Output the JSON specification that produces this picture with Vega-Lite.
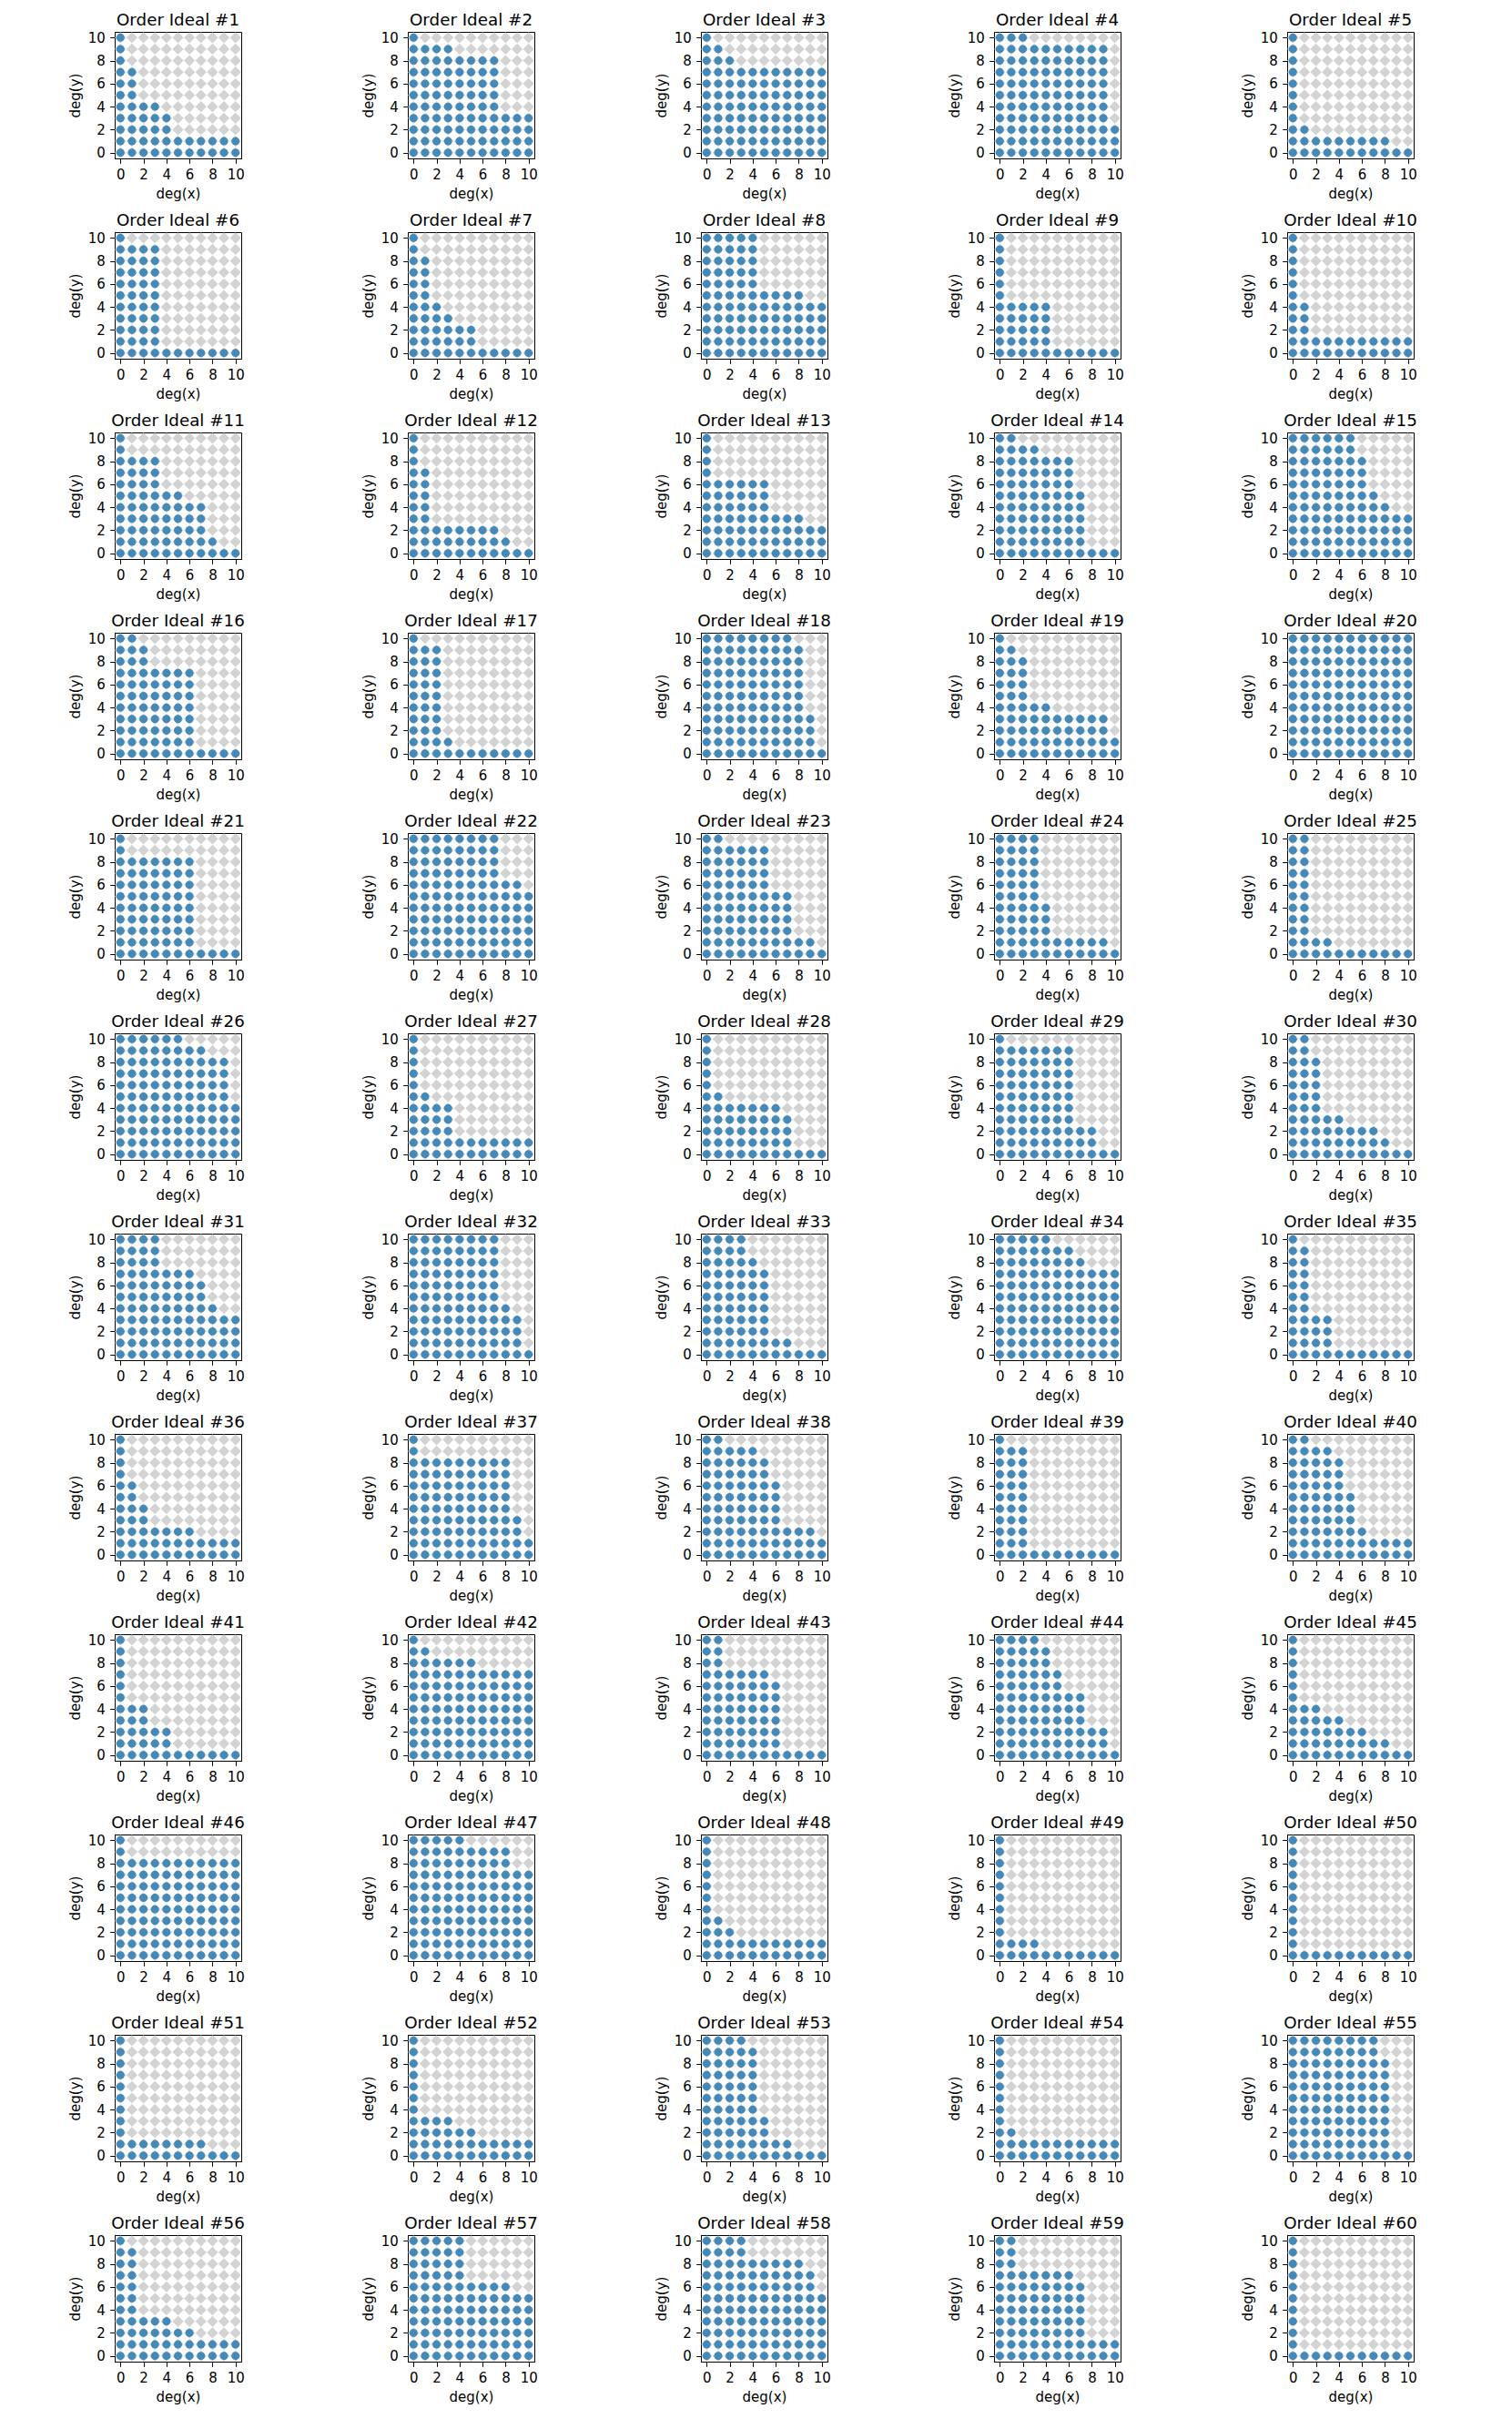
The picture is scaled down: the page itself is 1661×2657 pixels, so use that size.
{
"$schema":"https://vega.github.io/schema/vega-lite/v6.json",
"padding":{"left":74,"top":12,"right":0,"bottom":0},
"background":"white",
"datasets":{
"grid":[{"y":0,"g":[0,1,2,3,4,5,6,7,8,9,10]},{"y":1,"g":[0,1,2,3,4,5,6,7,8,9,10]},{"y":2,"g":[0,1,2,3,4,5,6,7,8,9,10]},{"y":3,"g":[0,1,2,3,4,5,6,7,8,9,10]},{"y":4,"g":[0,1,2,3,4,5,6,7,8,9,10]},{"y":5,"g":[0,1,2,3,4,5,6,7,8,9,10]},{"y":6,"g":[0,1,2,3,4,5,6,7,8,9,10]},{"y":7,"g":[0,1,2,3,4,5,6,7,8,9,10]},{"y":8,"g":[0,1,2,3,4,5,6,7,8,9,10]},{"y":9,"g":[0,1,2,3,4,5,6,7,8,9,10]},{"y":10,"g":[0,1,2,3,4,5,6,7,8,9,10]}],
"ideal":[
{"p":1,"y":0,"x":[0,1,2,3,4,5,6,7,8,9,10]},{"p":1,"y":1,"x":[0,1,2,3,4,5,6,7,8,9,10]},{"p":1,"y":2,"x":[0,1,2,3,4]},{"p":1,"y":3,"x":[0,1,2,3,4]},{"p":1,"y":4,"x":[0,1,2,3]},{"p":1,"y":5,"x":[0,1]},{"p":1,"y":6,"x":[0,1]},{"p":1,"y":7,"x":[0,1]},{"p":1,"y":8,"x":[0]},{"p":1,"y":9,"x":[0]},{"p":1,"y":10,"x":[0]},
{"p":2,"y":0,"x":[0,1,2,3,4,5,6,7,8,9,10]},{"p":2,"y":1,"x":[0,1,2,3,4,5,6,7,8,9,10]},{"p":2,"y":2,"x":[0,1,2,3,4,5,6,7,8,9,10]},{"p":2,"y":3,"x":[0,1,2,3,4,5,6,7,8,9,10]},{"p":2,"y":4,"x":[0,1,2,3,4,5,6,7]},{"p":2,"y":5,"x":[0,1,2,3,4,5,6,7]},{"p":2,"y":6,"x":[0,1,2,3,4,5,6,7]},{"p":2,"y":7,"x":[0,1,2,3,4,5,6,7]},{"p":2,"y":8,"x":[0,1,2,3,4,5,6,7]},{"p":2,"y":9,"x":[0,1,2,3]},{"p":2,"y":10,"x":[0]},
{"p":3,"y":0,"x":[0,1,2,3,4,5,6,7,8,9,10]},{"p":3,"y":1,"x":[0,1,2,3,4,5,6,7,8,9,10]},{"p":3,"y":2,"x":[0,1,2,3,4,5,6,7,8,9,10]},{"p":3,"y":3,"x":[0,1,2,3,4,5,6,7,8,9,10]},{"p":3,"y":4,"x":[0,1,2,3,4,5,6,7,8,9,10]},{"p":3,"y":5,"x":[0,1,2,3,4,5,6,7,8,9,10]},{"p":3,"y":6,"x":[0,1,2,3,4,5,6,7,8,9,10]},{"p":3,"y":7,"x":[0,1,2,3,4,5,6,7,8,9,10]},{"p":3,"y":8,"x":[0,1,2]},{"p":3,"y":9,"x":[0,1]},{"p":3,"y":10,"x":[0]},
{"p":4,"y":0,"x":[0,1,2,3,4,5,6,7,8,9,10]},{"p":4,"y":1,"x":[0,1,2,3,4,5,6,7,8,9,10]},{"p":4,"y":2,"x":[0,1,2,3,4,5,6,7,8,9,10]},{"p":4,"y":3,"x":[0,1,2,3,4,5,6,7,8,9]},{"p":4,"y":4,"x":[0,1,2,3,4,5,6,7,8,9]},{"p":4,"y":5,"x":[0,1,2,3,4,5,6,7,8,9]},{"p":4,"y":6,"x":[0,1,2,3,4,5,6,7,8,9]},{"p":4,"y":7,"x":[0,1,2,3,4,5,6,7,8,9]},{"p":4,"y":8,"x":[0,1,2,3,4,5,6,7,8,9]},{"p":4,"y":9,"x":[0,1,2,3,4,5,6,7,8,9]},{"p":4,"y":10,"x":[0,1,2]},
{"p":5,"y":0,"x":[0,1,2,3,4,5,6,7,8,9,10]},{"p":5,"y":1,"x":[0,1,2,3,4,5,6,7,8]},{"p":5,"y":2,"x":[0,1]},{"p":5,"y":3,"x":[0]},{"p":5,"y":4,"x":[0]},{"p":5,"y":5,"x":[0]},{"p":5,"y":6,"x":[0]},{"p":5,"y":7,"x":[0]},{"p":5,"y":8,"x":[0]},{"p":5,"y":9,"x":[0]},{"p":5,"y":10,"x":[0]},
{"p":6,"y":0,"x":[0,1,2,3,4,5,6,7,8,9,10]},{"p":6,"y":1,"x":[0,1,2,3]},{"p":6,"y":2,"x":[0,1,2,3]},{"p":6,"y":3,"x":[0,1,2,3]},{"p":6,"y":4,"x":[0,1,2,3]},{"p":6,"y":5,"x":[0,1,2,3]},{"p":6,"y":6,"x":[0,1,2,3]},{"p":6,"y":7,"x":[0,1,2,3]},{"p":6,"y":8,"x":[0,1,2,3]},{"p":6,"y":9,"x":[0,1,2,3]},{"p":6,"y":10,"x":[0]},
{"p":7,"y":0,"x":[0,1,2,3,4,5,6,7,8,9,10]},{"p":7,"y":1,"x":[0,1,2,3,4,5]},{"p":7,"y":2,"x":[0,1,2,3,4,5]},{"p":7,"y":3,"x":[0,1,2,3]},{"p":7,"y":4,"x":[0,1,2]},{"p":7,"y":5,"x":[0,1]},{"p":7,"y":6,"x":[0,1]},{"p":7,"y":7,"x":[0,1]},{"p":7,"y":8,"x":[0,1]},{"p":7,"y":9,"x":[0]},{"p":7,"y":10,"x":[0]},
{"p":8,"y":0,"x":[0,1,2,3,4,5,6,7,8,9,10]},{"p":8,"y":1,"x":[0,1,2,3,4,5,6,7,8,9,10]},{"p":8,"y":2,"x":[0,1,2,3,4,5,6,7,8,9,10]},{"p":8,"y":3,"x":[0,1,2,3,4,5,6,7,8,9,10]},{"p":8,"y":4,"x":[0,1,2,3,4,5,6,7,8,9,10]},{"p":8,"y":5,"x":[0,1,2,3,4,5,6,7,8]},{"p":8,"y":6,"x":[0,1,2,3,4]},{"p":8,"y":7,"x":[0,1,2,3,4]},{"p":8,"y":8,"x":[0,1,2,3,4]},{"p":8,"y":9,"x":[0,1,2,3,4]},{"p":8,"y":10,"x":[0,1,2,3,4]},
{"p":9,"y":0,"x":[0,1,2,3,4,5,6,7,8,9,10]},{"p":9,"y":1,"x":[0,1,2,3,4]},{"p":9,"y":2,"x":[0,1,2,3,4]},{"p":9,"y":3,"x":[0,1,2,3,4]},{"p":9,"y":4,"x":[0,1,2,3,4]},{"p":9,"y":5,"x":[0]},{"p":9,"y":6,"x":[0]},{"p":9,"y":7,"x":[0]},{"p":9,"y":8,"x":[0]},{"p":9,"y":9,"x":[0]},{"p":9,"y":10,"x":[0]},
{"p":10,"y":0,"x":[0,1,2,3,4,5,6,7,8,9,10]},{"p":10,"y":1,"x":[0,1,2,3,4,5,6,7,8,9,10]},{"p":10,"y":2,"x":[0,1]},{"p":10,"y":3,"x":[0,1]},{"p":10,"y":4,"x":[0,1]},{"p":10,"y":5,"x":[0]},{"p":10,"y":6,"x":[0]},{"p":10,"y":7,"x":[0]},{"p":10,"y":8,"x":[0]},{"p":10,"y":9,"x":[0]},{"p":10,"y":10,"x":[0]},
{"p":11,"y":0,"x":[0,1,2,3,4,5,6,7,8,9,10]},{"p":11,"y":1,"x":[0,1,2,3,4,5,6,7,8]},{"p":11,"y":2,"x":[0,1,2,3,4,5,6,7]},{"p":11,"y":3,"x":[0,1,2,3,4,5,6,7]},{"p":11,"y":4,"x":[0,1,2,3,4,5,6,7]},{"p":11,"y":5,"x":[0,1,2,3,4,5]},{"p":11,"y":6,"x":[0,1,2,3]},{"p":11,"y":7,"x":[0,1,2,3]},{"p":11,"y":8,"x":[0,1,2,3]},{"p":11,"y":9,"x":[0]},{"p":11,"y":10,"x":[0]},
{"p":12,"y":0,"x":[0,1,2,3,4,5,6,7,8,9,10]},{"p":12,"y":1,"x":[0,1,2,3,4,5,6,7,8]},{"p":12,"y":2,"x":[0,1,2,3,4,5,6,7]},{"p":12,"y":3,"x":[0,1]},{"p":12,"y":4,"x":[0,1]},{"p":12,"y":5,"x":[0,1]},{"p":12,"y":6,"x":[0,1]},{"p":12,"y":7,"x":[0,1]},{"p":12,"y":8,"x":[0]},{"p":12,"y":9,"x":[0]},{"p":12,"y":10,"x":[0]},
{"p":13,"y":0,"x":[0,1,2,3,4,5,6,7,8,9,10]},{"p":13,"y":1,"x":[0,1,2,3,4,5,6,7,8,9,10]},{"p":13,"y":2,"x":[0,1,2,3,4,5,6,7,8,9,10]},{"p":13,"y":3,"x":[0,1,2,3,4,5,6,7,8]},{"p":13,"y":4,"x":[0,1,2,3,4,5]},{"p":13,"y":5,"x":[0,1,2,3,4,5]},{"p":13,"y":6,"x":[0,1,2,3,4,5]},{"p":13,"y":7,"x":[0]},{"p":13,"y":8,"x":[0]},{"p":13,"y":9,"x":[0]},{"p":13,"y":10,"x":[0]},
{"p":14,"y":0,"x":[0,1,2,3,4,5,6,7,8,9,10]},{"p":14,"y":1,"x":[0,1,2,3,4,5,6,7]},{"p":14,"y":2,"x":[0,1,2,3,4,5,6,7]},{"p":14,"y":3,"x":[0,1,2,3,4,5,6,7]},{"p":14,"y":4,"x":[0,1,2,3,4,5,6,7]},{"p":14,"y":5,"x":[0,1,2,3,4,5,6,7]},{"p":14,"y":6,"x":[0,1,2,3,4,5,6]},{"p":14,"y":7,"x":[0,1,2,3,4,5,6]},{"p":14,"y":8,"x":[0,1,2,3,4,5,6]},{"p":14,"y":9,"x":[0,1,2,3]},{"p":14,"y":10,"x":[0,1]},
{"p":15,"y":0,"x":[0,1,2,3,4,5,6,7,8,9,10]},{"p":15,"y":1,"x":[0,1,2,3,4,5,6,7,8,9,10]},{"p":15,"y":2,"x":[0,1,2,3,4,5,6,7,8,9,10]},{"p":15,"y":3,"x":[0,1,2,3,4,5,6,7,8,9,10]},{"p":15,"y":4,"x":[0,1,2,3,4,5,6,7,8]},{"p":15,"y":5,"x":[0,1,2,3,4,5,6,7]},{"p":15,"y":6,"x":[0,1,2,3,4,5,6]},{"p":15,"y":7,"x":[0,1,2,3,4,5,6]},{"p":15,"y":8,"x":[0,1,2,3,4,5,6]},{"p":15,"y":9,"x":[0,1,2,3,4,5]},{"p":15,"y":10,"x":[0,1,2,3,4,5]},
{"p":16,"y":0,"x":[0,1,2,3,4,5,6,7,8,9,10]},{"p":16,"y":1,"x":[0,1,2,3,4,5,6]},{"p":16,"y":2,"x":[0,1,2,3,4,5,6]},{"p":16,"y":3,"x":[0,1,2,3,4,5,6]},{"p":16,"y":4,"x":[0,1,2,3,4,5,6]},{"p":16,"y":5,"x":[0,1,2,3,4,5,6]},{"p":16,"y":6,"x":[0,1,2,3,4,5,6]},{"p":16,"y":7,"x":[0,1,2,3,4,5,6]},{"p":16,"y":8,"x":[0,1,2]},{"p":16,"y":9,"x":[0,1,2]},{"p":16,"y":10,"x":[0,1]},
{"p":17,"y":0,"x":[0,1,2,3,4,5,6,7,8,9,10]},{"p":17,"y":1,"x":[0,1,2,3]},{"p":17,"y":2,"x":[0,1,2]},{"p":17,"y":3,"x":[0,1,2]},{"p":17,"y":4,"x":[0,1,2]},{"p":17,"y":5,"x":[0,1,2]},{"p":17,"y":6,"x":[0,1,2]},{"p":17,"y":7,"x":[0,1,2]},{"p":17,"y":8,"x":[0,1,2]},{"p":17,"y":9,"x":[0,1,2]},{"p":17,"y":10,"x":[0]},
{"p":18,"y":0,"x":[0,1,2,3,4,5,6,7,8,9,10]},{"p":18,"y":1,"x":[0,1,2,3,4,5,6,7,8,9]},{"p":18,"y":2,"x":[0,1,2,3,4,5,6,7,8,9]},{"p":18,"y":3,"x":[0,1,2,3,4,5,6,7,8,9]},{"p":18,"y":4,"x":[0,1,2,3,4,5,6,7,8]},{"p":18,"y":5,"x":[0,1,2,3,4,5,6,7,8]},{"p":18,"y":6,"x":[0,1,2,3,4,5,6,7,8]},{"p":18,"y":7,"x":[0,1,2,3,4,5,6,7,8]},{"p":18,"y":8,"x":[0,1,2,3,4,5,6,7,8]},{"p":18,"y":9,"x":[0,1,2,3,4,5,6,7,8]},{"p":18,"y":10,"x":[0,1,2,3,4,5,6,7]},
{"p":19,"y":0,"x":[0,1,2,3,4,5,6,7,8,9,10]},{"p":19,"y":1,"x":[0,1,2,3,4,5,6,7,8,9,10]},{"p":19,"y":2,"x":[0,1,2,3,4,5,6,7,8,9]},{"p":19,"y":3,"x":[0,1,2,3,4,5,6,7,8,9]},{"p":19,"y":4,"x":[0,1,2,3,4]},{"p":19,"y":5,"x":[0,1,2]},{"p":19,"y":6,"x":[0,1,2]},{"p":19,"y":7,"x":[0,1,2]},{"p":19,"y":8,"x":[0,1,2]},{"p":19,"y":9,"x":[0,1]},{"p":19,"y":10,"x":[0]},
{"p":20,"y":0,"x":[0,1,2,3,4,5,6,7,8,9,10]},{"p":20,"y":1,"x":[0,1,2,3,4,5,6,7,8,9,10]},{"p":20,"y":2,"x":[0,1,2,3,4,5,6,7,8,9,10]},{"p":20,"y":3,"x":[0,1,2,3,4,5,6,7,8,9,10]},{"p":20,"y":4,"x":[0,1,2,3,4,5,6,7,8,9,10]},{"p":20,"y":5,"x":[0,1,2,3,4,5,6,7,8,9,10]},{"p":20,"y":6,"x":[0,1,2,3,4,5,6,7,8,9,10]},{"p":20,"y":7,"x":[0,1,2,3,4,5,6,7,8,9,10]},{"p":20,"y":8,"x":[0,1,2,3,4,5,6,7,8,9,10]},{"p":20,"y":9,"x":[0,1,2,3,4,5,6,7,8,9,10]},{"p":20,"y":10,"x":[0,1,2,3,4,5,6,7,8,9,10]},
{"p":21,"y":0,"x":[0,1,2,3,4,5,6,7,8,9,10]},{"p":21,"y":1,"x":[0,1,2,3,4,5,6]},{"p":21,"y":2,"x":[0,1,2,3,4,5,6]},{"p":21,"y":3,"x":[0,1,2,3,4,5,6]},{"p":21,"y":4,"x":[0,1,2,3,4,5,6]},{"p":21,"y":5,"x":[0,1,2,3,4,5,6]},{"p":21,"y":6,"x":[0,1,2,3,4,5,6]},{"p":21,"y":7,"x":[0,1,2,3,4,5,6]},{"p":21,"y":8,"x":[0,1,2,3,4,5,6]},{"p":21,"y":9,"x":[0]},{"p":21,"y":10,"x":[0]},
{"p":22,"y":0,"x":[0,1,2,3,4,5,6,7,8,9,10]},{"p":22,"y":1,"x":[0,1,2,3,4,5,6,7,8,9,10]},{"p":22,"y":2,"x":[0,1,2,3,4,5,6,7,8,9,10]},{"p":22,"y":3,"x":[0,1,2,3,4,5,6,7,8,9,10]},{"p":22,"y":4,"x":[0,1,2,3,4,5,6,7,8,9,10]},{"p":22,"y":5,"x":[0,1,2,3,4,5,6,7,8,9,10]},{"p":22,"y":6,"x":[0,1,2,3,4,5,6,7,8,9]},{"p":22,"y":7,"x":[0,1,2,3,4,5,6,7]},{"p":22,"y":8,"x":[0,1,2,3,4,5,6,7]},{"p":22,"y":9,"x":[0,1,2,3,4,5,6,7]},{"p":22,"y":10,"x":[0,1,2,3,4,5,6,7]},
{"p":23,"y":0,"x":[0,1,2,3,4,5,6,7,8,9,10]},{"p":23,"y":1,"x":[0,1,2,3,4,5,6,7,8,9]},{"p":23,"y":2,"x":[0,1,2,3,4,5,6,7]},{"p":23,"y":3,"x":[0,1,2,3,4,5,6,7]},{"p":23,"y":4,"x":[0,1,2,3,4,5,6,7]},{"p":23,"y":5,"x":[0,1,2,3,4,5,6,7]},{"p":23,"y":6,"x":[0,1,2,3,4,5]},{"p":23,"y":7,"x":[0,1,2,3,4,5]},{"p":23,"y":8,"x":[0,1,2,3,4,5]},{"p":23,"y":9,"x":[0,1,2,3,4,5]},{"p":23,"y":10,"x":[0,1]},
{"p":24,"y":0,"x":[0,1,2,3,4,5,6,7,8,9,10]},{"p":24,"y":1,"x":[0,1,2,3,4,5,6,7,8,9]},{"p":24,"y":2,"x":[0,1,2,3,4]},{"p":24,"y":3,"x":[0,1,2,3,4]},{"p":24,"y":4,"x":[0,1,2,3,4]},{"p":24,"y":5,"x":[0,1,2,3]},{"p":24,"y":6,"x":[0,1,2,3]},{"p":24,"y":7,"x":[0,1,2,3]},{"p":24,"y":8,"x":[0,1,2,3]},{"p":24,"y":9,"x":[0,1,2,3]},{"p":24,"y":10,"x":[0,1,2,3]},
{"p":25,"y":0,"x":[0,1,2,3,4,5,6,7,8,9,10]},{"p":25,"y":1,"x":[0,1,2,3]},{"p":25,"y":2,"x":[0,1]},{"p":25,"y":3,"x":[0,1]},{"p":25,"y":4,"x":[0,1]},{"p":25,"y":5,"x":[0,1]},{"p":25,"y":6,"x":[0,1]},{"p":25,"y":7,"x":[0,1]},{"p":25,"y":8,"x":[0,1]},{"p":25,"y":9,"x":[0,1]},{"p":25,"y":10,"x":[0,1]},
{"p":26,"y":0,"x":[0,1,2,3,4,5,6,7,8,9,10]},{"p":26,"y":1,"x":[0,1,2,3,4,5,6,7,8,9,10]},{"p":26,"y":2,"x":[0,1,2,3,4,5,6,7,8,9,10]},{"p":26,"y":3,"x":[0,1,2,3,4,5,6,7,8,9,10]},{"p":26,"y":4,"x":[0,1,2,3,4,5,6,7,8,9,10]},{"p":26,"y":5,"x":[0,1,2,3,4,5,6,7,8,9]},{"p":26,"y":6,"x":[0,1,2,3,4,5,6,7,8,9]},{"p":26,"y":7,"x":[0,1,2,3,4,5,6,7,8,9]},{"p":26,"y":8,"x":[0,1,2,3,4,5,6,7,8,9]},{"p":26,"y":9,"x":[0,1,2,3,4,5,6,7]},{"p":26,"y":10,"x":[0,1,2,3,4,5]},
{"p":27,"y":0,"x":[0,1,2,3,4,5,6,7,8,9,10]},{"p":27,"y":1,"x":[0,1,2,3,4,5,6,7,8,9,10]},{"p":27,"y":2,"x":[0,1,2,3]},{"p":27,"y":3,"x":[0,1,2,3]},{"p":27,"y":4,"x":[0,1,2,3]},{"p":27,"y":5,"x":[0,1]},{"p":27,"y":6,"x":[0]},{"p":27,"y":7,"x":[0]},{"p":27,"y":8,"x":[0]},{"p":27,"y":9,"x":[0]},{"p":27,"y":10,"x":[0]},
{"p":28,"y":0,"x":[0,1,2,3,4,5,6,7,8,9,10]},{"p":28,"y":1,"x":[0,1,2,3,4,5,6,7]},{"p":28,"y":2,"x":[0,1,2,3,4,5,6,7]},{"p":28,"y":3,"x":[0,1,2,3,4,5,6,7]},{"p":28,"y":4,"x":[0,1,2,3,4,5,6]},{"p":28,"y":5,"x":[0,1]},{"p":28,"y":6,"x":[0]},{"p":28,"y":7,"x":[0]},{"p":28,"y":8,"x":[0]},{"p":28,"y":9,"x":[0]},{"p":28,"y":10,"x":[0]},
{"p":29,"y":0,"x":[0,1,2,3,4,5,6,7,8,9,10]},{"p":29,"y":1,"x":[0,1,2,3,4,5,6,7,8]},{"p":29,"y":2,"x":[0,1,2,3,4,5,6,7,8]},{"p":29,"y":3,"x":[0,1,2,3,4,5,6]},{"p":29,"y":4,"x":[0,1,2,3,4,5,6]},{"p":29,"y":5,"x":[0,1,2,3,4,5,6]},{"p":29,"y":6,"x":[0,1,2,3,4,5,6]},{"p":29,"y":7,"x":[0,1,2,3,4,5,6]},{"p":29,"y":8,"x":[0,1,2,3,4,5,6]},{"p":29,"y":9,"x":[0,1,2,3,4,5,6]},{"p":29,"y":10,"x":[0]},
{"p":30,"y":0,"x":[0,1,2,3,4,5,6,7,8,9,10]},{"p":30,"y":1,"x":[0,1,2,3,4,5,6,7,8]},{"p":30,"y":2,"x":[0,1,2,3,4,5,6,7]},{"p":30,"y":3,"x":[0,1,2,3,4]},{"p":30,"y":4,"x":[0,1,2]},{"p":30,"y":5,"x":[0,1,2]},{"p":30,"y":6,"x":[0,1,2]},{"p":30,"y":7,"x":[0,1,2]},{"p":30,"y":8,"x":[0,1,2]},{"p":30,"y":9,"x":[0,1]},{"p":30,"y":10,"x":[0,1]},
{"p":31,"y":0,"x":[0,1,2,3,4,5,6,7,8,9,10]},{"p":31,"y":1,"x":[0,1,2,3,4,5,6,7,8,9,10]},{"p":31,"y":2,"x":[0,1,2,3,4,5,6,7,8,9,10]},{"p":31,"y":3,"x":[0,1,2,3,4,5,6,7,8,9,10]},{"p":31,"y":4,"x":[0,1,2,3,4,5,6,7,8]},{"p":31,"y":5,"x":[0,1,2,3,4,5,6,7]},{"p":31,"y":6,"x":[0,1,2,3,4,5,6,7]},{"p":31,"y":7,"x":[0,1,2,3,4,5,6]},{"p":31,"y":8,"x":[0,1,2,3]},{"p":31,"y":9,"x":[0,1,2,3]},{"p":31,"y":10,"x":[0,1,2,3]},
{"p":32,"y":0,"x":[0,1,2,3,4,5,6,7,8,9,10]},{"p":32,"y":1,"x":[0,1,2,3,4,5,6,7,8,9]},{"p":32,"y":2,"x":[0,1,2,3,4,5,6,7,8,9]},{"p":32,"y":3,"x":[0,1,2,3,4,5,6,7,8,9]},{"p":32,"y":4,"x":[0,1,2,3,4,5,6,7,8]},{"p":32,"y":5,"x":[0,1,2,3,4,5,6,7]},{"p":32,"y":6,"x":[0,1,2,3,4,5,6,7]},{"p":32,"y":7,"x":[0,1,2,3,4,5,6,7]},{"p":32,"y":8,"x":[0,1,2,3,4,5,6,7]},{"p":32,"y":9,"x":[0,1,2,3,4,5,6,7]},{"p":32,"y":10,"x":[0,1,2,3,4,5,6,7]},
{"p":33,"y":0,"x":[0,1,2,3,4,5,6,7,8,9,10]},{"p":33,"y":1,"x":[0,1,2,3,4,5,6,7]},{"p":33,"y":2,"x":[0,1,2,3,4,5]},{"p":33,"y":3,"x":[0,1,2,3,4,5]},{"p":33,"y":4,"x":[0,1,2,3,4,5]},{"p":33,"y":5,"x":[0,1,2,3,4,5]},{"p":33,"y":6,"x":[0,1,2,3,4,5]},{"p":33,"y":7,"x":[0,1,2,3,4,5]},{"p":33,"y":8,"x":[0,1,2,3,4]},{"p":33,"y":9,"x":[0,1,2,3]},{"p":33,"y":10,"x":[0,1,2,3]},
{"p":34,"y":0,"x":[0,1,2,3,4,5,6,7,8,9,10]},{"p":34,"y":1,"x":[0,1,2,3,4,5,6,7,8,9,10]},{"p":34,"y":2,"x":[0,1,2,3,4,5,6,7,8,9,10]},{"p":34,"y":3,"x":[0,1,2,3,4,5,6,7,8,9,10]},{"p":34,"y":4,"x":[0,1,2,3,4,5,6,7,8,9,10]},{"p":34,"y":5,"x":[0,1,2,3,4,5,6,7,8,9,10]},{"p":34,"y":6,"x":[0,1,2,3,4,5,6,7,8,9,10]},{"p":34,"y":7,"x":[0,1,2,3,4,5,6,7,8,9,10]},{"p":34,"y":8,"x":[0,1,2,3,4,5,6,7]},{"p":34,"y":9,"x":[0,1,2,3,4,5,6]},{"p":34,"y":10,"x":[0,1,2,3,4]},
{"p":35,"y":0,"x":[0,1,2,3,4,5,6,7,8,9,10]},{"p":35,"y":1,"x":[0,1,2,3]},{"p":35,"y":2,"x":[0,1,2,3]},{"p":35,"y":3,"x":[0,1,2,3]},{"p":35,"y":4,"x":[0,1]},{"p":35,"y":5,"x":[0,1]},{"p":35,"y":6,"x":[0,1]},{"p":35,"y":7,"x":[0,1]},{"p":35,"y":8,"x":[0,1]},{"p":35,"y":9,"x":[0,1]},{"p":35,"y":10,"x":[0]},
{"p":36,"y":0,"x":[0,1,2,3,4,5,6,7,8,9,10]},{"p":36,"y":1,"x":[0,1,2,3,4,5,6,7,8,9,10]},{"p":36,"y":2,"x":[0,1,2,3,4,5,6]},{"p":36,"y":3,"x":[0,1,2]},{"p":36,"y":4,"x":[0,1,2]},{"p":36,"y":5,"x":[0,1]},{"p":36,"y":6,"x":[0,1]},{"p":36,"y":7,"x":[0]},{"p":36,"y":8,"x":[0]},{"p":36,"y":9,"x":[0]},{"p":36,"y":10,"x":[0]},
{"p":37,"y":0,"x":[0,1,2,3,4,5,6,7,8,9,10]},{"p":37,"y":1,"x":[0,1,2,3,4,5,6,7,8,9,10]},{"p":37,"y":2,"x":[0,1,2,3,4,5,6,7,8,9]},{"p":37,"y":3,"x":[0,1,2,3,4,5,6,7,8,9]},{"p":37,"y":4,"x":[0,1,2,3,4,5,6,7,8]},{"p":37,"y":5,"x":[0,1,2,3,4,5,6,7,8]},{"p":37,"y":6,"x":[0,1,2,3,4,5,6,7,8]},{"p":37,"y":7,"x":[0,1,2,3,4,5,6,7,8]},{"p":37,"y":8,"x":[0,1,2,3,4,5,6,7,8]},{"p":37,"y":9,"x":[0]},{"p":37,"y":10,"x":[0]},
{"p":38,"y":0,"x":[0,1,2,3,4,5,6,7,8,9,10]},{"p":38,"y":1,"x":[0,1,2,3,4,5,6,7,8,9,10]},{"p":38,"y":2,"x":[0,1,2,3,4,5,6,7,8,9]},{"p":38,"y":3,"x":[0,1,2,3,4,5,6]},{"p":38,"y":4,"x":[0,1,2,3,4,5,6]},{"p":38,"y":5,"x":[0,1,2,3,4,5,6]},{"p":38,"y":6,"x":[0,1,2,3,4,5,6]},{"p":38,"y":7,"x":[0,1,2,3,4,5]},{"p":38,"y":8,"x":[0,1,2,3,4,5]},{"p":38,"y":9,"x":[0,1,2,3,4]},{"p":38,"y":10,"x":[0,1]},
{"p":39,"y":0,"x":[0,1,2,3,4,5,6,7,8,9,10]},{"p":39,"y":1,"x":[0,1,2]},{"p":39,"y":2,"x":[0,1,2]},{"p":39,"y":3,"x":[0,1,2]},{"p":39,"y":4,"x":[0,1,2]},{"p":39,"y":5,"x":[0,1,2]},{"p":39,"y":6,"x":[0,1,2]},{"p":39,"y":7,"x":[0,1,2]},{"p":39,"y":8,"x":[0,1,2]},{"p":39,"y":9,"x":[0,1,2]},{"p":39,"y":10,"x":[0]},
{"p":40,"y":0,"x":[0,1,2,3,4,5,6,7,8,9,10]},{"p":40,"y":1,"x":[0,1,2,3,4,5,6,7,8,9,10]},{"p":40,"y":2,"x":[0,1,2,3,4,5,6]},{"p":40,"y":3,"x":[0,1,2,3,4,5]},{"p":40,"y":4,"x":[0,1,2,3,4,5]},{"p":40,"y":5,"x":[0,1,2,3,4,5]},{"p":40,"y":6,"x":[0,1,2,3,4]},{"p":40,"y":7,"x":[0,1,2,3,4]},{"p":40,"y":8,"x":[0,1,2,3,4]},{"p":40,"y":9,"x":[0,1,2,3]},{"p":40,"y":10,"x":[0,1]},
{"p":41,"y":0,"x":[0,1,2,3,4,5,6,7,8,9,10]},{"p":41,"y":1,"x":[0,1,2,3,4]},{"p":41,"y":2,"x":[0,1,2,3,4]},{"p":41,"y":3,"x":[0,1,2]},{"p":41,"y":4,"x":[0,1,2]},{"p":41,"y":5,"x":[0]},{"p":41,"y":6,"x":[0]},{"p":41,"y":7,"x":[0]},{"p":41,"y":8,"x":[0]},{"p":41,"y":9,"x":[0]},{"p":41,"y":10,"x":[0]},
{"p":42,"y":0,"x":[0,1,2,3,4,5,6,7,8,9,10]},{"p":42,"y":1,"x":[0,1,2,3,4,5,6,7,8,9,10]},{"p":42,"y":2,"x":[0,1,2,3,4,5,6,7,8,9,10]},{"p":42,"y":3,"x":[0,1,2,3,4,5,6,7,8,9,10]},{"p":42,"y":4,"x":[0,1,2,3,4,5,6,7,8,9,10]},{"p":42,"y":5,"x":[0,1,2,3,4,5,6,7,8,9,10]},{"p":42,"y":6,"x":[0,1,2,3,4,5,6,7,8,9,10]},{"p":42,"y":7,"x":[0,1,2,3,4,5,6,7,8,9,10]},{"p":42,"y":8,"x":[0,1,2,3,4,5]},{"p":42,"y":9,"x":[0,1]},{"p":42,"y":10,"x":[0]},
{"p":43,"y":0,"x":[0,1,2,3,4,5,6,7,8,9,10]},{"p":43,"y":1,"x":[0,1,2,3,4,5,6]},{"p":43,"y":2,"x":[0,1,2,3,4,5,6]},{"p":43,"y":3,"x":[0,1,2,3,4,5,6]},{"p":43,"y":4,"x":[0,1,2,3,4,5,6]},{"p":43,"y":5,"x":[0,1,2,3,4,5,6]},{"p":43,"y":6,"x":[0,1,2,3,4,5,6]},{"p":43,"y":7,"x":[0,1,2,3,4,5]},{"p":43,"y":8,"x":[0,1]},{"p":43,"y":9,"x":[0,1]},{"p":43,"y":10,"x":[0,1]},
{"p":44,"y":0,"x":[0,1,2,3,4,5,6,7,8,9,10]},{"p":44,"y":1,"x":[0,1,2,3,4,5,6,7,8,9]},{"p":44,"y":2,"x":[0,1,2,3,4,5,6,7,8,9]},{"p":44,"y":3,"x":[0,1,2,3,4,5,6,7]},{"p":44,"y":4,"x":[0,1,2,3,4,5,6,7]},{"p":44,"y":5,"x":[0,1,2,3,4,5,6,7]},{"p":44,"y":6,"x":[0,1,2,3,4,5]},{"p":44,"y":7,"x":[0,1,2,3,4,5]},{"p":44,"y":8,"x":[0,1,2,3,4]},{"p":44,"y":9,"x":[0,1,2,3,4]},{"p":44,"y":10,"x":[0,1,2,3]},
{"p":45,"y":0,"x":[0,1,2,3,4,5,6,7,8,9,10]},{"p":45,"y":1,"x":[0,1,2,3,4,5,6,7,8]},{"p":45,"y":2,"x":[0,1,2,3,4,5,6]},{"p":45,"y":3,"x":[0,1,2,3,4]},{"p":45,"y":4,"x":[0,1,2]},{"p":45,"y":5,"x":[0]},{"p":45,"y":6,"x":[0]},{"p":45,"y":7,"x":[0]},{"p":45,"y":8,"x":[0]},{"p":45,"y":9,"x":[0]},{"p":45,"y":10,"x":[0]},
{"p":46,"y":0,"x":[0,1,2,3,4,5,6,7,8,9,10]},{"p":46,"y":1,"x":[0,1,2,3,4,5,6,7,8,9,10]},{"p":46,"y":2,"x":[0,1,2,3,4,5,6,7,8,9,10]},{"p":46,"y":3,"x":[0,1,2,3,4,5,6,7,8,9,10]},{"p":46,"y":4,"x":[0,1,2,3,4,5,6,7,8,9,10]},{"p":46,"y":5,"x":[0,1,2,3,4,5,6,7,8,9,10]},{"p":46,"y":6,"x":[0,1,2,3,4,5,6,7,8,9,10]},{"p":46,"y":7,"x":[0,1,2,3,4,5,6,7,8,9,10]},{"p":46,"y":8,"x":[0,1,2,3,4,5,6,7,8,9,10]},{"p":46,"y":9,"x":[0]},{"p":46,"y":10,"x":[0]},
{"p":47,"y":0,"x":[0,1,2,3,4,5,6,7,8,9,10]},{"p":47,"y":1,"x":[0,1,2,3,4,5,6,7,8,9,10]},{"p":47,"y":2,"x":[0,1,2,3,4,5,6,7,8,9,10]},{"p":47,"y":3,"x":[0,1,2,3,4,5,6,7,8,9,10]},{"p":47,"y":4,"x":[0,1,2,3,4,5,6,7,8,9,10]},{"p":47,"y":5,"x":[0,1,2,3,4,5,6,7,8,9,10]},{"p":47,"y":6,"x":[0,1,2,3,4,5,6,7,8,9,10]},{"p":47,"y":7,"x":[0,1,2,3,4,5,6,7,8,9,10]},{"p":47,"y":8,"x":[0,1,2,3,4,5,6,7,8]},{"p":47,"y":9,"x":[0,1,2,3,4,5,6,7,8]},{"p":47,"y":10,"x":[0,1,2,3,4]},
{"p":48,"y":0,"x":[0,1,2,3,4,5,6,7,8,9,10]},{"p":48,"y":1,"x":[0,1,2,3,4,5,6,7,8,9,10]},{"p":48,"y":2,"x":[0,1,2]},{"p":48,"y":3,"x":[0,1]},{"p":48,"y":4,"x":[0]},{"p":48,"y":5,"x":[0]},{"p":48,"y":6,"x":[0]},{"p":48,"y":7,"x":[0]},{"p":48,"y":8,"x":[0]},{"p":48,"y":9,"x":[0]},{"p":48,"y":10,"x":[0]},
{"p":49,"y":0,"x":[0,1,2,3,4,5,6,7,8,9,10]},{"p":49,"y":1,"x":[0,1,2,3]},{"p":49,"y":2,"x":[0]},{"p":49,"y":3,"x":[0]},{"p":49,"y":4,"x":[0]},{"p":49,"y":5,"x":[0]},{"p":49,"y":6,"x":[0]},{"p":49,"y":7,"x":[0]},{"p":49,"y":8,"x":[0]},{"p":49,"y":9,"x":[0]},{"p":49,"y":10,"x":[0]},
{"p":50,"y":0,"x":[0,1,2,3,4,5,6,7,8,9,10]},{"p":50,"y":1,"x":[0]},{"p":50,"y":2,"x":[0]},{"p":50,"y":3,"x":[0]},{"p":50,"y":4,"x":[0]},{"p":50,"y":5,"x":[0]},{"p":50,"y":6,"x":[0]},{"p":50,"y":7,"x":[0]},{"p":50,"y":8,"x":[0]},{"p":50,"y":9,"x":[0]},{"p":50,"y":10,"x":[0]},
{"p":51,"y":0,"x":[0,1,2,3,4,5,6,7,8,9,10]},{"p":51,"y":1,"x":[0,1,2,3,4,5,6,7]},{"p":51,"y":2,"x":[0]},{"p":51,"y":3,"x":[0]},{"p":51,"y":4,"x":[0]},{"p":51,"y":5,"x":[0]},{"p":51,"y":6,"x":[0]},{"p":51,"y":7,"x":[0]},{"p":51,"y":8,"x":[0]},{"p":51,"y":9,"x":[0]},{"p":51,"y":10,"x":[0]},
{"p":52,"y":0,"x":[0,1,2,3,4,5,6,7,8,9,10]},{"p":52,"y":1,"x":[0,1,2,3,4,5,6,7,8,9,10]},{"p":52,"y":2,"x":[0,1,2,3,4,5]},{"p":52,"y":3,"x":[0,1,2,3]},{"p":52,"y":4,"x":[0]},{"p":52,"y":5,"x":[0]},{"p":52,"y":6,"x":[0]},{"p":52,"y":7,"x":[0]},{"p":52,"y":8,"x":[0]},{"p":52,"y":9,"x":[0]},{"p":52,"y":10,"x":[0]},
{"p":53,"y":0,"x":[0,1,2,3,4,5,6,7,8,9,10]},{"p":53,"y":1,"x":[0,1,2,3,4,5,6,7]},{"p":53,"y":2,"x":[0,1,2,3,4,5]},{"p":53,"y":3,"x":[0,1,2,3,4,5]},{"p":53,"y":4,"x":[0,1,2,3,4]},{"p":53,"y":5,"x":[0,1,2,3,4]},{"p":53,"y":6,"x":[0,1,2,3,4]},{"p":53,"y":7,"x":[0,1,2,3,4]},{"p":53,"y":8,"x":[0,1,2,3,4]},{"p":53,"y":9,"x":[0,1,2,3,4]},{"p":53,"y":10,"x":[0,1,2,3]},
{"p":54,"y":0,"x":[0,1,2,3,4,5,6,7,8,9,10]},{"p":54,"y":1,"x":[0,1,2,3,4,5,6,7,8,9,10]},{"p":54,"y":2,"x":[0,1]},{"p":54,"y":3,"x":[0]},{"p":54,"y":4,"x":[0]},{"p":54,"y":5,"x":[0]},{"p":54,"y":6,"x":[0]},{"p":54,"y":7,"x":[0]},{"p":54,"y":8,"x":[0]},{"p":54,"y":9,"x":[0]},{"p":54,"y":10,"x":[0]},
{"p":55,"y":0,"x":[0,1,2,3,4,5,6,7,8,9,10]},{"p":55,"y":1,"x":[0,1,2,3,4,5,6,7,8]},{"p":55,"y":2,"x":[0,1,2,3,4,5,6,7,8]},{"p":55,"y":3,"x":[0,1,2,3,4,5,6,7,8]},{"p":55,"y":4,"x":[0,1,2,3,4,5,6,7,8]},{"p":55,"y":5,"x":[0,1,2,3,4,5,6,7,8]},{"p":55,"y":6,"x":[0,1,2,3,4,5,6,7,8]},{"p":55,"y":7,"x":[0,1,2,3,4,5,6,7,8]},{"p":55,"y":8,"x":[0,1,2,3,4,5,6,7,8]},{"p":55,"y":9,"x":[0,1,2,3,4,5,6,7]},{"p":55,"y":10,"x":[0,1,2,3,4,5,6,7]},
{"p":56,"y":0,"x":[0,1,2,3,4,5,6,7,8,9,10]},{"p":56,"y":1,"x":[0,1,2,3,4,5,6,7,8,9,10]},{"p":56,"y":2,"x":[0,1,2,3,4,5,6]},{"p":56,"y":3,"x":[0,1,2,3,4]},{"p":56,"y":4,"x":[0,1]},{"p":56,"y":5,"x":[0,1]},{"p":56,"y":6,"x":[0,1]},{"p":56,"y":7,"x":[0,1]},{"p":56,"y":8,"x":[0,1]},{"p":56,"y":9,"x":[0,1]},{"p":56,"y":10,"x":[0]},
{"p":57,"y":0,"x":[0,1,2,3,4,5,6,7,8,9,10]},{"p":57,"y":1,"x":[0,1,2,3,4,5,6,7,8,9,10]},{"p":57,"y":2,"x":[0,1,2,3,4,5,6,7,8,9,10]},{"p":57,"y":3,"x":[0,1,2,3,4,5,6,7,8,9,10]},{"p":57,"y":4,"x":[0,1,2,3,4,5,6,7,8,9,10]},{"p":57,"y":5,"x":[0,1,2,3,4,5,6,7,8,9,10]},{"p":57,"y":6,"x":[0,1,2,3,4,5,6,7,8]},{"p":57,"y":7,"x":[0,1,2,3,4]},{"p":57,"y":8,"x":[0,1,2,3,4]},{"p":57,"y":9,"x":[0,1,2,3,4]},{"p":57,"y":10,"x":[0,1,2,3,4]},
{"p":58,"y":0,"x":[0,1,2,3,4,5,6,7,8,9,10]},{"p":58,"y":1,"x":[0,1,2,3,4,5,6,7,8,9,10]},{"p":58,"y":2,"x":[0,1,2,3,4,5,6,7,8,9,10]},{"p":58,"y":3,"x":[0,1,2,3,4,5,6,7,8,9,10]},{"p":58,"y":4,"x":[0,1,2,3,4,5,6,7,8,9,10]},{"p":58,"y":5,"x":[0,1,2,3,4,5,6,7,8,9,10]},{"p":58,"y":6,"x":[0,1,2,3,4,5,6,7,8,9]},{"p":58,"y":7,"x":[0,1,2,3,4,5,6,7,8,9]},{"p":58,"y":8,"x":[0,1,2,3,4,5,6,7,8]},{"p":58,"y":9,"x":[0,1,2,3]},{"p":58,"y":10,"x":[0,1,2,3]},
{"p":59,"y":0,"x":[0,1,2,3,4,5,6,7,8,9,10]},{"p":59,"y":1,"x":[0,1,2,3,4,5,6,7,8,9,10]},{"p":59,"y":2,"x":[0,1,2,3,4,5,6,7]},{"p":59,"y":3,"x":[0,1,2,3,4,5,6,7]},{"p":59,"y":4,"x":[0,1,2,3,4,5,6,7]},{"p":59,"y":5,"x":[0,1,2,3,4,5,6,7]},{"p":59,"y":6,"x":[0,1,2,3,4,5,6,7]},{"p":59,"y":7,"x":[0,1,2,3,4,5,6]},{"p":59,"y":8,"x":[0,1]},{"p":59,"y":9,"x":[0,1]},{"p":59,"y":10,"x":[0,1]},
{"p":60,"y":0,"x":[0,1,2,3,4,5,6,7,8,9,10]},{"p":60,"y":1,"x":[0]},{"p":60,"y":2,"x":[0]},{"p":60,"y":3,"x":[0]},{"p":60,"y":4,"x":[0]},{"p":60,"y":5,"x":[0]},{"p":60,"y":6,"x":[0]},{"p":60,"y":7,"x":[0]},{"p":60,"y":8,"x":[0]},{"p":60,"y":9,"x":[0]},{"p":60,"y":10,"x":[0]}
]},
"data":{"name":"ideal"},
"transform":[{"lookup":"y","from":{"data":{"name":"grid"},"key":"y","fields":["g"]}}],
"facet":{"field":"p","type":"ordinal","title":null,"header":{"labelExpr":"'Order Ideal #' + datum.value","labelFont":"DejaVu Sans","labelFontSize":18.3,"labelColor":"black","labelPadding":-12,"labelBaseline":"alphabetic"}},
"columns":5,
"spacing":{"row":81,"column":183},
"bounds":"flush",
"resolve":{"axis":{"x":"independent","y":"independent"}},
"spec":{
"width":139,"height":139,
"layer":[
{"transform":[{"flatten":["g"],"as":["gx"]}],
"mark":{"type":"point","shape":"diamond","filled":true,"color":"#d3d3d3","opacity":1,"size":150},
"encoding":{"x":{"field":"gx","type":"quantitative","scale":{"domain":[-0.5,10.5],"nice":false,"zero":false},"axis":{"values":[0,2,4,6,8,10]},"title":"deg(x)"},
"y":{"field":"y","type":"quantitative","scale":{"domain":[-0.5,10.5],"nice":false,"zero":false},"axis":{"values":[0,2,4,6,8,10]},"title":"deg(y)"}}},
{"transform":[{"flatten":["x"],"as":["xv"]}],
"mark":{"type":"circle","color":"#1f77b4","opacity":0.8,"size":80},
"encoding":{"x":{"field":"xv","type":"quantitative","scale":{"domain":[-0.5,10.5],"nice":false,"zero":false},"axis":{"values":[0,2,4,6,8,10]},"title":"deg(x)"},
"y":{"field":"y","type":"quantitative","scale":{"domain":[-0.5,10.5],"nice":false,"zero":false},"axis":{"values":[0,2,4,6,8,10]},"title":"deg(y)"}}}
]},
"config":{
"font":"DejaVu Sans",
"view":{"stroke":"black","strokeWidth":1},
"axis":{"labelFont":"DejaVu Sans","labelFontSize":15,"labelColor":"black","titleFont":"DejaVu Sans","titleFontSize":15,"titleFontWeight":"normal","titleColor":"black","tickColor":"black","tickSize":5.3,"tickWidth":1,"labelPadding":5.3,"domainColor":"black","grid":false,"labelFlush":false,"labelOverlap":false},
"axisX":{"titlePadding":6,"labelAngle":0},
"axisY":{"titlePadding":6}
}
}
